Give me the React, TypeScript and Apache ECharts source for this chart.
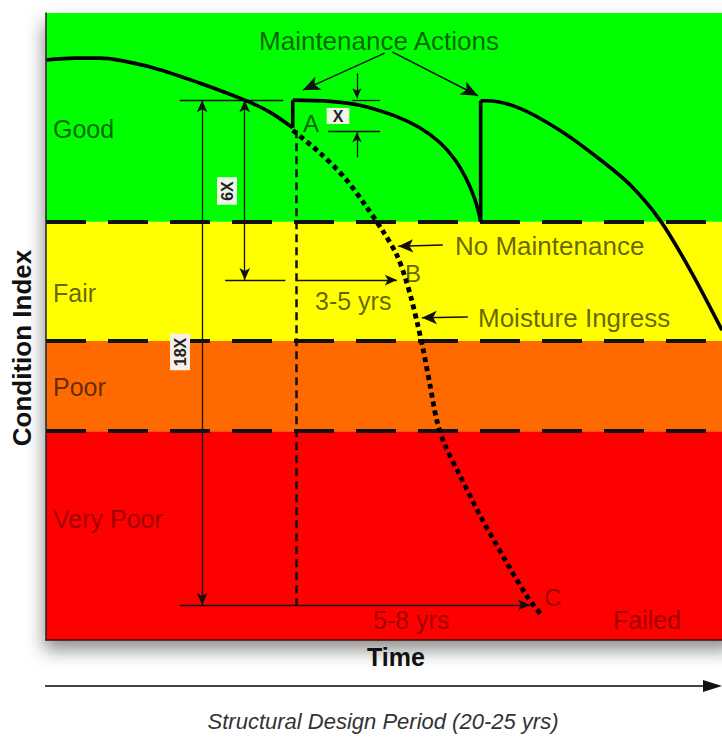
import React, { useEffect, useRef } from "react";
import * as echarts from "echarts";

// ---- data (time 0-100, condition index 0-100) ----
const bandNames = ["Very Poor", "Poor", "Fair", "Good"];
const bandLimits = [0, 33.3, 47.7, 66.7, 100];
const bandColors = ["#ff0000", "#ff6a00", "#ffff00", "#00ff00"];

const cycle1Time = [0, 4.3, 8.0, 15.4, 22.8, 29.4, 33.1, 36.5];
const cycle1Cond = [92.5, 92.8, 92.8, 91.4, 88.8, 86.1, 84.2, 81.7];
const cycle2Time = [36.5, 42.0, 46.4, 51.6, 55.3, 58.3, 60.5, 62.1, 63.2, 63.9, 64.3];
const cycle2Cond = [86.1, 85.9, 85.3, 83.6, 81.7, 79.3, 76.6, 73.7, 71.0, 68.6, 66.7];
const cycle3Time = [64.3, 65.2, 70.1, 76.0, 82.0, 86.4, 90.8, 95.3, 100];
const cycle3Cond = [86.0, 86.0, 84.8, 81.3, 76.6, 72.6, 67.0, 59.0, 49.4];

const noMaintTime = [36.5, 40.5, 44.2, 47.2, 49.9, 51.9, 53.1, 54.1, 55.0, 55.8, 56.8, 57.8, 59.0, 61.2, 64.2, 67.9, 71.2, 73.5];
const noMaintCond = [81.3, 77.7, 73.7, 69.4, 65.1, 61.4, 57.9, 54.2, 50.2, 46.3, 40.7, 35.1, 31.1, 26.3, 19.9, 12.8, 6.9, 3.7];

// reference levels / times for the dimension annotations
const levelTop = 86.1; // condition just before maintenance
const levelX = 81.2; // drop of X
const levelB = 57.4; // drop of 6X (point B)
const levelC = 5.6; // drop of 18X (point C)
const timeA = 37.0;
const timeB = 51.9;
const timeC = 71.6;
const dim18Time = 23.1;
const dim6Time = 29.4;
const dimXTime = 46.0;

const FONT = "'Liberation Sans', Arial, sans-serif";

export default function App() {
  const ref = useRef<HTMLDivElement>(null);

  useEffect(() => {
    if (!ref.current) return;
    const chart = echarts.init(ref.current, undefined, { renderer: "svg" });

    const zip = (xs: number[], ys: number[]) => xs.map((x, i) => [x, ys[i]]);

    const thin = { color: "#111", width: 1.3, type: "solid" as const };
    const pointer = { color: "#111", width: 1.5, type: "solid" as const };
    const arrowSize = [8, 12];
    const seg = (a: number[], b: number[], s0: string, s1: string, style: any = thin, size: number[] = arrowSize) => [
      { coord: a, symbol: s0, symbolSize: size, lineStyle: style },
      { coord: b, symbol: s1, symbolSize: size },
    ];

    const bandAreas = bandNames.map((n, i) => [
      { name: n, yAxis: bandLimits[i], itemStyle: { color: bandColors[i], opacity: 1 } },
      { yAxis: bandLimits[i + 1] },
    ]);

    const boundaryLines = bandLimits.slice(1, 4).map((v) => ({
      yAxis: v,
      symbol: "none",
      lineStyle: { color: "#111", width: 4, type: [40, 22] },
    }));

    const annotations = [
      // 18X dimension
      seg([dim18Time, levelTop], [dim18Time, levelC], "arrow", "arrow"),
      // 6X dimension
      seg([dim6Time, levelTop], [dim6Time, levelB], "arrow", "arrow"),
      // extension lines
      seg([19.8, levelTop], [35.1, levelTop], "none", "none"),
      seg([45.3, levelTop], [49.4, levelTop], "none", "none"),
      seg([41.7, levelX], [49.4, levelX], "none", "none"),
      seg([26.5, levelB], [35.4, levelB], "none", "none"),
      // X dimension arrows
      seg([dimXTime, 90.4], [dimXTime, 86.4], "none", "arrow", thin, [7, 10]),
      seg([dimXTime, 77.0], [dimXTime, 81.0], "none", "arrow", thin, [7, 10]),
      // 3-5 yrs and 5-8 yrs arrows
      seg([37.1, levelB], [timeB, levelB], "none", "arrow"),
      seg([19.8, levelC], [timeC, levelC], "none", "arrow"),
      // dashed drop from A
      seg([timeA, 81.3], [timeA, levelC], "none", "none", { color: "#111", width: 2.5, type: [8, 5] }),
      // Maintenance Actions pointers
      seg([50.1, 93.6], [38.0, 87.7], "none", "arrow", pointer, [11, 17]),
      seg([51.2, 93.8], [63.9, 86.8], "none", "arrow", pointer, [11, 17]),
      // No Maintenance / Moisture Ingress pointers
      seg([58.7, 63.0], [52.1, 62.8], "none", "arrow", pointer, [10, 15]),
      seg([62.4, 51.5], [55.6, 51.4], "none", "arrow", pointer, [10, 15]),
    ];

    const curveStyle = { color: "#000", width: 3.6 };
    const txt = (
      text: string,
      x: number,
      y: number,
      size: number,
      fill: string,
      align = "left",
      extra: any = {},
      elExtra: any = {}
    ) => ({
      type: "text",
      x,
      y,
      z: 100,
      silent: true,
      ...elExtra,
      style: {
        text,
        fontSize: size,
        fontFamily: FONT,
        fill,
        align,
        verticalAlign: "middle",
        textAlign: align,
        textVerticalAlign: "middle",
        ...extra,
      },
    });

    const dGreen = "rgba(0,0,0,0.62)";
    const dRed = "rgba(60,0,0,0.5)";

    chart.setOption({
      animation: false,
      grid: { left: 46, top: 13, right: 0, bottom: 97 },
      xAxis: {
        type: "value",
        min: 0,
        max: 100,
        z: 10,
        axisLine: { show: true, onZero: false, lineStyle: { color: "#3a1200", width: 1.5 } },
        axisTick: { show: false },
        axisLabel: { show: false },
        splitLine: { show: false },
      },
      yAxis: {
        type: "value",
        min: 0,
        max: 100,
        z: 10,
        axisLine: { show: true, onZero: false, lineStyle: { color: "#222", width: 1.5 } },
        axisTick: { show: false },
        axisLabel: { show: false },
        splitLine: { show: false },
      },
      series: [
        {
          name: "Condition bands",
          type: "line",
          data: [],
          z: 1,
          silent: true,
          markArea: { silent: true, label: { show: false }, data: bandAreas },
        },
        {
          name: "Band limits",
          type: "line",
          data: [],
          z: 3,
          silent: true,
          markLine: {
            silent: true,
            symbol: ["none", "none"],
            label: { show: false },
            data: boundaryLines,
          },
        },
        {
          name: "Annotations",
          type: "line",
          data: [],
          z: 4,
          silent: true,
          markLine: {
            silent: true,
            symbol: ["none", "none"],
            label: { show: false },
            emphasis: { disabled: true },
            data: annotations,
          },
        },
        {
          name: "Maintained 1",
          type: "line",
          z: 5,
          smooth: 0.3,
          symbol: "none",
          lineStyle: curveStyle,
          data: zip(cycle1Time, cycle1Cond),
        },
        {
          name: "Maintenance 1",
          type: "line",
          z: 5,
          symbol: "none",
          lineStyle: curveStyle,
          data: [
            [cycle1Time[cycle1Time.length - 1], cycle1Cond[cycle1Cond.length - 1]],
            [cycle2Time[0], cycle2Cond[0]],
          ],
        },
        {
          name: "Maintained 2",
          type: "line",
          z: 5,
          smooth: 0.3,
          symbol: "none",
          lineStyle: curveStyle,
          data: zip(cycle2Time, cycle2Cond),
        },
        {
          name: "Maintenance 2",
          type: "line",
          z: 5,
          symbol: "none",
          lineStyle: curveStyle,
          data: [
            [cycle2Time[cycle2Time.length - 1], cycle2Cond[cycle2Cond.length - 1]],
            [cycle3Time[0], cycle3Cond[0]],
          ],
        },
        {
          name: "Maintained 3",
          type: "line",
          z: 5,
          smooth: 0.3,
          symbol: "none",
          lineStyle: curveStyle,
          data: zip(cycle3Time, cycle3Cond),
        },
        {
          name: "No Maintenance",
          type: "line",
          z: 5,
          smooth: 0.3,
          symbol: "none",
          lineStyle: { color: "#000", width: 4.8, type: [5, 4] },
          data: zip(noMaintTime, noMaintCond),
        },
      ],
      graphic: [
        {
          type: "rect",
          z: -10,
          silent: true,
          shape: { x: 46, y: 13, width: 690, height: 627 },
          style: { fill: "#fff", shadowBlur: 18, shadowOffsetY: 10, shadowOffsetX: -2, shadowColor: "rgba(0,0,0,0.45)" },
        },
        // band labels
        txt("Good", 53, 129, 25, dGreen),
        txt("Fair", 53, 293, 25, dGreen),
        txt("Poor", 53, 387, 25, dGreen),
        txt("Very Poor", 53, 519, 25, dRed),
        // annotation texts
        txt("Maintenance Actions", 379, 41, 26, dGreen, "center"),
        txt("A", 311, 123, 24, dGreen, "center"),
        txt("B", 413, 273, 24, dGreen, "center"),
        txt("C", 553, 597, 24, dRed, "center"),
        txt("No Maintenance", 455, 246, 26, dGreen),
        txt("Moisture Ingress", 478, 318, 26, dGreen),
        txt("3-5 yrs", 315, 301, 25, dGreen),
        txt("5-8 yrs", 373, 620, 25, dRed),
        txt("Failed", 613, 620, 25, dRed),
        txt("X", 338, 116, 16, "#222", "center", { fontWeight: "bold", backgroundColor: "#eef6e8", padding: [0, 6] }),
        txt("6X", 227, 191, 16, "#222", "center", { fontWeight: "bold", backgroundColor: "#eef6e8", padding: [2, 4] }, { rotation: Math.PI / 2 }),
        txt("18X", 180, 352, 16, "#222", "center", { fontWeight: "bold", backgroundColor: "#f6f0e6", padding: [2, 4] }, { rotation: Math.PI / 2 }),
        // axis titles
        txt("Condition Index", 22, 348, 26, "#111", "center", { fontWeight: "bold" }, { rotation: Math.PI / 2 }),
        txt("Time", 396, 657, 25, "#111", "center", { fontWeight: "bold" }),
        {
          type: "line",
          z: 100,
          silent: true,
          shape: { x1: 45, y1: 686, x2: 708, y2: 686 },
          style: { stroke: "#444", lineWidth: 2 },
        },
        {
          type: "polygon",
          z: 100,
          silent: true,
          shape: { points: [[703, 680], [722, 686], [703, 692]] },
          style: { fill: "#111" },
        },
        txt("Structural Design Period (20-25 yrs)", 383, 721, 22, "#333", "center", { fontStyle: "italic" }),
      ],
    });

    return () => chart.dispose();
  }, []);

  return (
    <div
      ref={ref}
      style={{ position: "fixed", left: 0, top: 0, width: 722, height: 737, background: "#fff" }}
    />
  );
}
